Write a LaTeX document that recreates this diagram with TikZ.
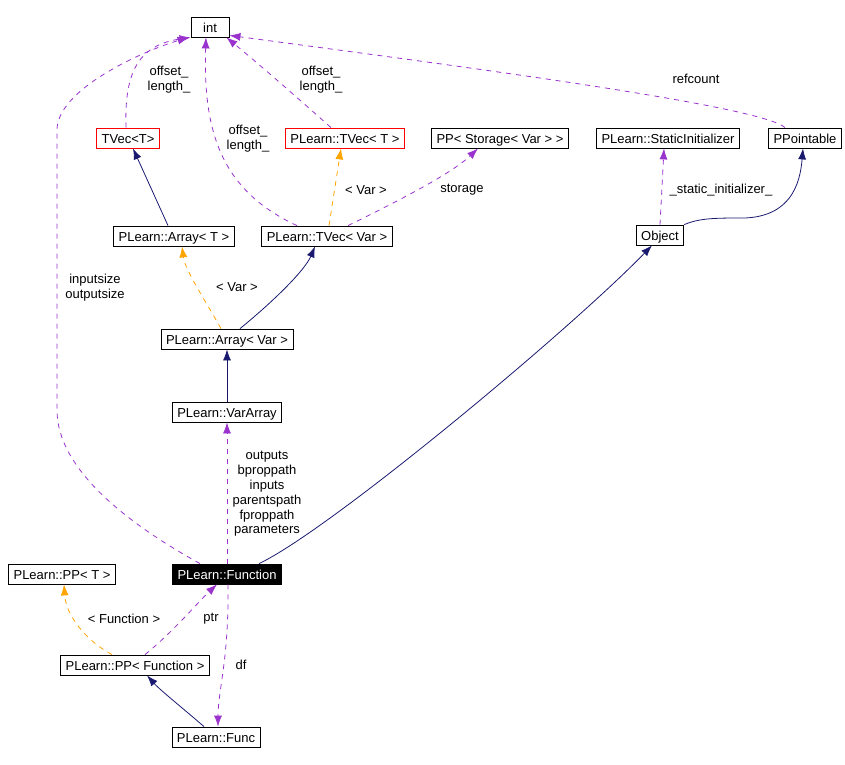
\documentclass[tikz,border=0pt]{standalone}
\usepackage{fontspec}
\setmainfont{Liberation Sans}
\usetikzlibrary{arrows.meta,
	calc}
\definecolor{usecol}{HTML}{9A32CD}
\definecolor{tplcol}{HTML}{FFA500}
\definecolor{inhcol}{HTML}{191970}
\tikzstyle{cls}=[draw, fill=white, line width=0.8pt, inner xsep=5pt,
		inner ysep=0pt, minimum height=20pt, text height=11.5pt, text depth=0pt,
		font=\fontsize{13}{15}\selectfont]
\tikzstyle{tvc}=[cls, draw=red]
\tikzstyle{cur}=[cls, fill=black, text=white]
\tikzstyle{lbl}=[align=center, inner sep=0pt, font=\fontsize{13}{14.8}\selectfont]
\tikzstyle{use}=[draw=usecol, fill=none, line width=0.8pt, dash pattern=on 5pt off 5pt,
		-{Latex[length=11pt,width=8pt]}]
\tikzstyle{tpl}=[draw=tplcol, fill=none, line width=0.8pt, dash pattern=on 5pt off 5pt,
		-{Latex[length=11pt,width=8pt]}]
\tikzstyle{inh}=[draw=inhcol, fill=none, line width=0.8pt, -{Latex[length=11pt,width=8pt]}]

\begin{document}
\begin{tikzpicture}[x=1pt, y=-1pt]
	\useasboundingbox (0,0) rectangle (845,764);
	% classes
	\node[cls, minimum width=38pt] (int) at (210,27) {int};
	\node[tvc] (tvecT) at (128,138) {TVec<T>};
	\node[tvc] (pltvecT) at (345,138) {PLearn::TVec< T >};
	\node[cls] (ppstor) at (500,138) {PP< Storage< Var > >};
	\node[cls] (statinit) at (668,138) {PLearn::StaticInitializer};
	\node[cls] (ppointable) at (805,138) {PPointable};
	\node[cls] (arrT) at (174,236) {PLearn::Array< T >};
	\node[cls] (tvecVar) at (327,236) {PLearn::TVec< Var >};
	\node[cls] (object) at (660,235) {Object};
	\node[cls] (arrVar) at (227,339) {PLearn::Array< Var >};
	\node[cls] (vararr) at (227,412) {PLearn::VarArray};
	\node[cur] (fn) at (227,574) {PLearn::Function};
	\node[cls] (ppT) at (62,574) {PLearn::PP< T >};
	\node[cls] (ppFunc) at (135,665) {PLearn::PP< Function >};
	\node[cls] (pfunc) at (216,737) {PLearn::Func};

	% members pointing at int
	\draw[use] ([xshift=-27pt]fn.north) .. controls (130,525) and (57,470) .. (57,410)
		-- (57,130) .. controls (57,90) and (140,52) .. ([xshift=-2pt]int.south west);
	\draw[use] ([xshift=-2pt]tvecT.north) .. controls (124,70) and (140,45) .. (int.south west);
	\draw[use] ([xshift=-30pt]tvecVar.north) .. controls (220,190) and (203,130) .. ([xshift=-4pt]int.south);
	\draw[use] ([xshift=-14pt]pltvecT.north) .. controls (300,100) and (260,65) .. ([xshift=-3pt]int.south east);
	\draw[use] ([xshift=-20pt]ppointable.north) .. controls (760,105) and (450,65) .. ([yshift=2pt]int.south east);
	\node[lbl] (lsize) at (95,288) {inputsize\\outputsize};
	\node[lbl] (loff1) at (169,80) {offset\_\\length\_};
	\node[lbl] (loff2) at (248,139) {offset\_\\length\_};
	\node[lbl] (loff3) at (321,80) {offset\_\\length\_};
	\node[lbl] (lref) at (696,79) {refcount};

	% TVec< Var >
	\draw[tpl] ([xshift=2pt]tvecVar.north) -- ([xshift=-4pt]pltvecT.south);
	\draw[use] ([xshift=21pt]tvecVar.north) .. controls (390,205) and (450,175) .. ([xshift=-22pt]ppstor.south);
	\node[lbl] (lvar1) at (366,190) {< Var >};
	\node[lbl] (lstor) at (462,190) {storage};

	% Array
	\draw[inh] ([xshift=-6pt]arrT.north) -- ([xshift=5pt]tvecT.south);
	\draw[tpl] ([xshift=-6pt]arrVar.north) .. controls (205,300) and (185,270) .. ([xshift=8pt]arrT.south);
	\draw[inh] ([xshift=13pt]arrVar.north) .. controls (275,300) and (305,270) .. ([xshift=-12pt]tvecVar.south);
	\draw[inh] (vararr) -- (arrVar);
	\node[lbl] (lvar2) at (237,287) {< Var >};

	% Function
	\draw[use] (fn) -- (vararr);
	\node[lbl] (lpaths) at (267,494) {outputs\\bproppath\\inputs\\parentspath\\fproppath\\parameters};
	\draw[inh] ([xshift=32pt]fn.north) .. controls (330,530) and (570,330) .. ([xshift=-8pt]object.south);

	% Object
	\draw[inh] (object.north east) .. controls (700,218) and (715,218) .. (745,218)
		.. controls (790,216) and (800,185) .. ([xshift=-2pt]ppointable.south);
	\draw[use] (object.north) -- ([xshift=-4pt]statinit.south);
	\node[lbl] (lstat) at (721,190) {\_static\_initializer\_};

	% PP and Func
	\draw[tpl] ([xshift=-23pt]ppFunc.north) .. controls (85,640) and (66,615) .. ([xshift=2pt]ppT.south);
	\draw[use] ([xshift=10pt]ppFunc.north) .. controls (175,630) and (200,600) .. ([xshift=-10pt]fn.south);
	\draw[inh] ([xshift=-12pt]pfunc.north) .. controls (185,710) and (160,690) .. ([xshift=12pt]ppFunc.south);
	\draw[use] ([xshift=1pt]fn.south) .. controls (229,660) and (218,690) .. ([xshift=2pt]pfunc.north);
	\node[lbl] (lfn) at (124,619) {< Function >};
	\node[lbl] (lptr) at (211,619) {ptr};
	\node[lbl] (ldf) at (241,665) {df};
\end{tikzpicture}
\end{document}
